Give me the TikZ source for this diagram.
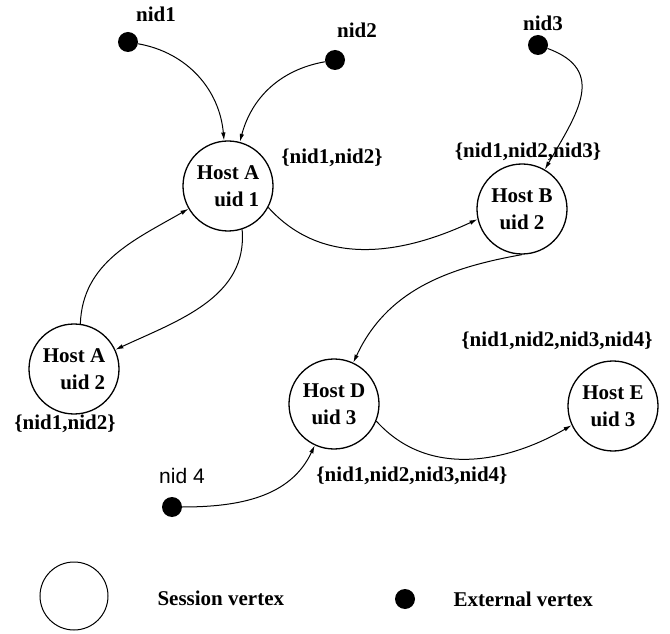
\documentclass[tikz,border=0pt]{standalone}
\usepackage{fontspec}
\setmainfont{Liberation Serif}
\newfontfamily\labelsans{Liberation Sans}
\usetikzlibrary{arrows.meta}
\tikzstyle{session}=[draw,circle,line width=1.3pt,minimum size=90pt,inner sep=0pt,align=center]
\tikzstyle{external}=[fill,circle,minimum size=20pt,inner sep=0pt]
\tikzstyle{every node}=[font=\fontsize{21}{27}\selectfont\bfseries]
\tikzstyle{link}=[->,line width=1pt]

\begin{document}
\begin{tikzpicture}[x=1pt,y=1pt,>={Latex[length=8pt,width=4.5pt]}]
  \useasboundingbox (0,0) rectangle (670,633);
  \node[session,align=right] (hostA1) at (228,447) {Host A\\uid 1};
  \node[session] (hostB) at (522,424) {Host B\\uid 2};
  \node[session,align=right] (hostA2) at (74,264) {Host A\\uid 2};
  \node[session] (hostD) at (334,229) {Host D\\uid 3};
  \node[session] (hostE) at (613,227) {Host E\\uid 3};
  \node[external] (nid1) at (128,591) {};
  \node[external] (nid2) at (335,573) {};
  \node[external] (nid3) at (538,588) {};
  \node[external] (nid4) at (172,126) {};
  \node (nid1label) at (156,619) {nid1};
  \node (nid2label) at (357,603) {nid2};
  \node (nid3label) at (543,610) {nid3};
  \node[font=\fontsize{21}{27}\selectfont\labelsans] (nid4label) at (182,157) {nid 4};
  \node (setA1) at (332,475) {\{nid1,nid2\}};
  \node (setB) at (528,481) {\{nid1,nid2,nid3\}};
  \node (setA2) at (65,209) {\{nid1,nid2\}};
  \node (setE) at (557,292) {\{nid1,nid2,nid3,nid4\}};
  \node (setD) at (412,157) {\{nid1,nid2,nid3,nid4\}};
  \draw[link] (nid1) to[out=-10,in=95] (hostA1);
  \draw[link] (nid2) to[out=190,in=75] (hostA1);
  \draw[link] (nid3) to[out=-20,in=60,looseness=1.35] (hostB);
  \draw[link] (hostA2.82) to[out=88,in=210] (hostA1);
  \draw[link] (hostA1.-72) to[out=-85,in=25] (hostA2);
  \draw[link] (hostA1.-28) to[out=-48,in=205] (hostB.193);
  \draw[link] (hostB.-90) to[out=190,in=65] (hostD);
  \draw[link] (nid4) to[out=0,in=245] (hostD);
  \draw[link] (hostD.-22) to[out=-48,in=210] (hostE.205);
  \node[draw,circle,line width=1pt,minimum size=68pt,inner sep=0pt] (sessionkey) at (74,37) {};
  \node[anchor=west] (sessiontext) at (154,35) {Session vertex};
  \node[external] (externalkey) at (405,34) {};
  \node[anchor=west] (externaltext) at (450,34) {External vertex};
\end{tikzpicture}
\end{document}
